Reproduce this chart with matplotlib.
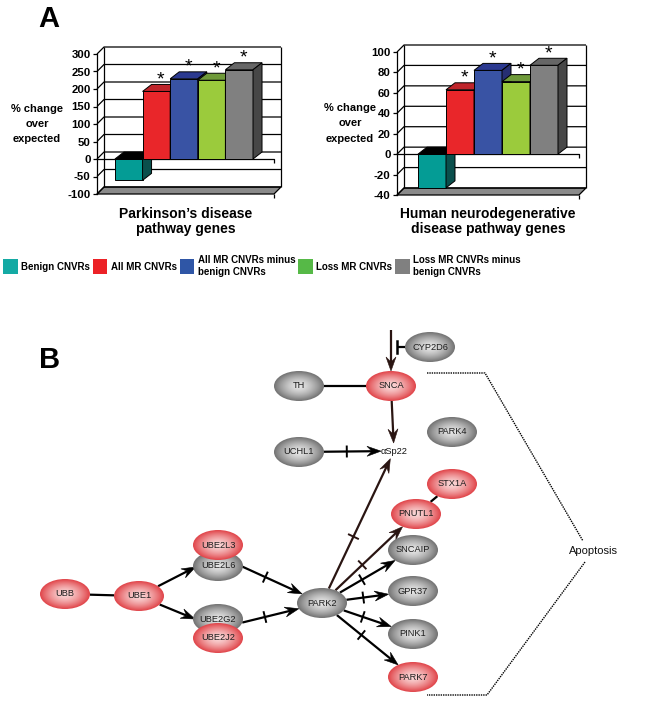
import numpy as np
import matplotlib
matplotlib.use("Agg")
import matplotlib.pyplot as plt
from matplotlib.patches import Polygon, Ellipse, Patch

plt.rcParams['font.family'] = ['Liberation Sans', 'DejaVu Sans']
plt.rcParams['axes.unicode_minus'] = False

W, H = 661, 721

# ---------------- panel A data ----------------
series = ["Benign CNVRs", "All MR CNVRs", "All MR CNVRs minus\nbenign CNVRs",
          "Loss MR CNVRs", "Loss MR CNVRs minus\nbenign CNVRs"]
pd_values = [-61, 193, 229, 225, 255]
nd_values = [-33, 63, 82, 71, 87]
significant = [False, True, True, True, True]
pd_ticks = [-100, -50, 0, 50, 100, 150, 200, 250, 300]
nd_ticks = [-40, -20, 0, 20, 40, 60, 80, 100]
pd_title = "Parkinson\u2019s disease\npathway genes"
nd_title = "Human neurodegenerative\ndisease pathway genes"
ylabel = "% change\nover\nexpected"

# ---------------- panel B data ----------------
genes = ["UBB", "UBE1", "UBE2L6", "UBE2L3", "UBE2G2", "UBE2J2", "PARK2",
         "PNUTL1", "STX1A", "SNCAIP", "GPR37", "PINK1", "PARK7",
         "TH", "SNCA", "CYP2D6", "UCHL1", "PARK4"]
in_mr_cnvr = ["UBB", "UBE1", "UBE2L3", "UBE2J2", "PNUTL1", "STX1A", "PARK7", "SNCA"]
# (source, target, kind, crossbar)
edges = [("UBB", "UBE1", "line", False),
         ("UBE1", "UBE2L3", "arrow", False),
         ("UBE1", "UBE2J2", "arrow", False),
         ("UBE2L3", "PARK2", "arrow", True),
         ("UBE2J2", "PARK2", "arrow", True),
         ("PARK2", "aSp22", "arrow", True),
         ("PARK2", "PNUTL1", "arrow", True),
         ("PARK2", "SNCAIP", "arrow", True),
         ("PARK2", "GPR37", "arrow", True),
         ("PARK2", "PINK1", "arrow", True),
         ("PARK2", "PARK7", "arrow", True),
         ("PNUTL1", "STX1A", "line", False),
         ("TH", "SNCA", "line", False),
         ("SNCA", "aSp22", "arrow", False),
         ("UCHL1", "aSp22", "arrow", True),
         ("upstream", "SNCA", "arrow", False),
         ("CYP2D6", "cyp_target", "inhibit", False)]
brown_edges = [("PARK2", "aSp22"), ("PARK2", "PNUTL1"), ("SNCA", "aSp22"), ("upstream", "SNCA")]

# layout (pixel positions of the diagram)
pos = {"UBB": (65, 594), "UBE1": (139, 596), "UBE2L3": (218, 545), "UBE2L6": (218, 566),
       "UBE2G2": (218, 619), "UBE2J2": (218, 638), "PARK2": (322, 603),
       "PNUTL1": (416, 514), "STX1A": (452, 484), "SNCAIP": (413, 550), "GPR37": (413, 591),
       "PINK1": (413, 634), "PARK7": (413, 677), "TH": (299, 386), "SNCA": (391, 386),
       "CYP2D6": (430, 347), "UCHL1": (299, 452), "PARK4": (452, 432),
       "aSp22": (394, 451), "upstream": (391, 330), "cyp_target": (397, 347)}
stacks = {"UBE2L3": ("UBE2L3", "UBE2L6"), "UBE2J2": ("UBE2G2", "UBE2J2")}

fig = plt.figure(figsize=(W / 100, H / 100), dpi=100)

# bar colours: front, top, side
front_c = ["#049c95", "#e9262a", "#3953a4", "#9bcb3c", "#808080"]
top_c = ["#000000", "#bf252b", "#2b3990", "#6f9a3a", "#666666"]
side_c = ["#0a4f4c", "#8f1c1f", "#262f72", "#5b7a2b", "#474747"]
legend_c = ["#14aaa4", "#ec2227", "#2f56a6", "#56b947", "#808080"]


def px_box(box):
    l, t, r, b = box
    return [l / W, 1 - b / H, (r - l) / W, (b - t) / H]


def draw_chart(box, values, ticks, xlim, title, ylab_dx, title_dy, wall=(7, 7), depth=(9, 7)):
    ax = fig.add_axes(px_box(box))
    l, t, r, b = box
    ylo, yhi = ticks[0], ticks[-1]
    ax.set_xlim(*xlim)
    ax.set_ylim(ylo, yhi)
    xlo, xhi = xlim
    sx = (xhi - xlo) / (r - l)
    sy = (yhi - ylo) / (b - t)
    wx, wy = wall[0] * sx, wall[1] * sy
    dx, dy = depth[0] * sx, depth[1] * sy
    k = dict(color="black", lw=0.9, clip_on=False, solid_capstyle="butt")
    ax.add_patch(Polygon([(xlo, ylo), (xhi, ylo), (xhi + wx, ylo + wy), (xlo + wx, ylo + wy)],
                         closed=True, fc="#8a8a8a", ec="black", lw=0.9, clip_on=False, zorder=1))
    for tv in ticks:
        ax.plot([xlo, xlo + wx, xhi + wx], [tv, tv + wy, tv + wy], zorder=1, **k)
    ax.plot([xlo + wx, xlo + wx], [ylo + wy, yhi + wy], zorder=1, **k)
    ax.plot([xhi + wx, xhi + wx], [ylo + wy, yhi + wy], zorder=1, **k)
    ax.plot([xlo, xhi, xhi], [0, 0, -4 * sy], zorder=2, **k)
    ax.plot([xhi, xhi], [ylo, ylo - 4 * sy], zorder=2, **k)

    x = np.arange(len(values))
    bars = ax.bar(x, values, width=1.0, color=front_c, edgecolor="black", lw=0.7)
    for i, (xi, v) in enumerate(zip(x, values)):
        z = 3 + i * 0.1
        bars[i].set_zorder(z)
        bars[i].set_clip_on(False)
        x0, x1 = xi - 0.5, xi + 0.5
        hi, lo = max(v, 0), min(v, 0)
        ax.add_patch(Polygon([(x0, hi), (x1, hi), (x1 + dx, hi + dy), (x0 + dx, hi + dy)],
                             fc=top_c[i], ec="black", lw=0.7, zorder=z + 0.01, clip_on=False))
        ax.add_patch(Polygon([(x1, lo), (x1, hi), (x1 + dx, hi + dy), (x1 + dx, lo + dy)],
                             fc=side_c[i], ec="black", lw=0.7, zorder=z + 0.02, clip_on=False))
        if significant[i]:
            ax.annotate("*", (xi, v), xytext=(depth[0] / 2, 7), textcoords="offset pixels",
                        ha="center", va="baseline", fontsize=14, zorder=10)

    ax.set_yticks(ticks)
    ax.set_xticks([])
    ax.tick_params(axis="y", length=3, width=0.9, pad=1.5, labelsize=8.2)
    for lbl in ax.get_yticklabels():
        lbl.set_fontweight("bold")
    for s in ["top", "right", "bottom"]:
        ax.spines[s].set_visible(False)
    ax.spines["left"].set_linewidth(0.9)
    ax.patch.set_alpha(0)
    ax.annotate(ylabel, xy=(0, 0.5), xycoords="axes fraction", xytext=(ylab_dx, 0),
                textcoords="offset pixels", ha="center", va="center", fontweight="bold",
                fontsize=8, linespacing=1.65)
    ax.annotate(title, xy=(0.5, 0), xycoords="axes fraction", xytext=(0, title_dy),
                textcoords="offset pixels", ha="center", va="top", fontweight="bold",
                fontsize=10, linespacing=1.05)
    return ax


draw_chart((97, 54, 274, 194), pd_values, pd_ticks, (-1.15, 5.26), pd_title, -60, -13)
draw_chart((397, 52, 579, 195), nd_values, nd_ticks, (-1.25, 5.25), nd_title, -47, -12)

handles = [Patch(facecolor=c, edgecolor="none") for c in legend_c]
fig.legend(handles, series, loc="center", bbox_to_anchor=(262 / W, 1 - 266 / H), ncol=5,
           frameon=False, prop={"weight": "bold", "size": 7}, handlelength=1.5,
           handleheight=2.0, handletextpad=0.35, columnspacing=0.3, borderpad=0)

# ---------------- panel B ----------------
net = fig.add_axes([0, 0, 1, 1])
net.set_xlim(0, W)
net.set_ylim(H, 0)
net.axis("off")
net.patch.set_alpha(0)

fig.text(38 / W, 1 - 27 / H, "A", fontsize=21, fontweight="heavy")
fig.text(39 / W, 1 - 368 / H, "B", fontsize=21, fontweight="heavy")

NA, NB = 25, 15


def anchor(name):
    if name in stacks:
        a, b = stacks[name]
        p = (np.array(pos[a]) + np.array(pos[b])) / 2
        return p, NA, NB + abs(pos[a][1] - pos[b][1]) / 2
    if name == "aSp22":
        return np.array(pos[name], float), 13, 8
    if name in ("upstream", "cyp_target"):
        return np.array(pos[name], float), 1e-6, 1e-6
    return np.array(pos[name], float), NA, NB


def on_boundary(c, a, b, toward):
    d = np.array(toward, float) - c
    tt = 1 / np.sqrt((d[0] / a) ** 2 + (d[1] / b) ** 2)
    return c + min(tt, 1.0) * d


HL, HW, NOTCH = 14, 5, 9
for s, tg, kind, bar in edges:
    cs, as_, bs = anchor(s)
    ct, at, bt = anchor(tg)
    p0 = on_boundary(cs, as_, bs, ct)
    p1 = on_boundary(ct, at, bt, cs)
    col = "#2a1512" if (s, tg) in brown_edges else "black"
    u = (p1 - p0) / np.linalg.norm(p1 - p0)
    nrm = np.array([-u[1], u[0]])
    end = p1 - NOTCH * u if kind == "arrow" else p1
    net.plot([p0[0], end[0]], [p0[1], end[1]], color=col, lw=1.6, zorder=2,
             solid_capstyle="butt")
    if kind == "arrow":
        back = p1 - HL * u
        head = [p1, back + HW * nrm, p1 - NOTCH * u, back - HW * nrm]
        net.add_patch(Polygon(head, closed=True, fc=col, ec=col, lw=0.4, zorder=2))
    if bar:
        m = p0 + 0.4 * (p1 - p0)
        net.plot([m[0] - 5 * nrm[0], m[0] + 5 * nrm[0]], [m[1] - 5 * nrm[1], m[1] + 5 * nrm[1]],
                 color=col, lw=1.4, zorder=2)
    if kind == "inhibit":
        net.plot([p1[0] - 6 * nrm[0], p1[0] + 6 * nrm[0]], [p1[1] - 6 * nrm[1], p1[1] + 6 * nrm[1]],
                 color=col, lw=1.8, zorder=2)

red_edge, red_mid = np.array([0.88, 0.27, 0.29]), np.array([0.98, 0.84, 0.84])
gray_edge, gray_mid = np.array([0.45, 0.45, 0.45]), np.array([0.90, 0.90, 0.90])
gy, gx = np.mgrid[-1:1:60j, -1:1:100j]
rr = np.clip(np.sqrt(gx ** 2 + gy ** 2), 0, 1)[..., None] ** 1.5

for g in genes:
    x, y = pos[g]
    if g in in_mr_cnvr:
        img = red_mid + (red_edge - red_mid) * rr
    else:
        img = gray_mid + (gray_edge - gray_mid) * rr
    z = 4 + genes.index(g) * 0.01
    ell = Ellipse((x, y), 2 * NA, 2 * NB, fc="none", ec="none", zorder=z)
    net.add_patch(ell)
    im = net.imshow(img, extent=(x - NA, x + NA, y + NB, y - NB), aspect="auto",
                    interpolation="bilinear", zorder=z)
    im.set_clip_path(ell)
    net.text(x, y, g, ha="center", va="center", fontsize=6.7, color="#1e1e1e", zorder=z + 0.005)

net.text(pos["aSp22"][0], pos["aSp22"][1], "\u03b1Sp22", ha="center", va="center",
         fontsize=6.7, color="#111111", zorder=5)

# apoptosis bracket
net.plot([427, 485, 583], [373, 373, 541], color="black", lw=1.0, ls=(0, (1, 0.7)), zorder=1)
net.plot([585, 487, 427], [562, 695, 695], color="black", lw=1.0, ls=(0, (1, 0.7)), zorder=1)
net.text(593, 551, "Apoptosis", ha="center", va="center", fontsize=8, color="#111111")

net.set_xlim(0, W)
net.set_ylim(H, 0)

fig.savefig("out.png", dpi=100)
